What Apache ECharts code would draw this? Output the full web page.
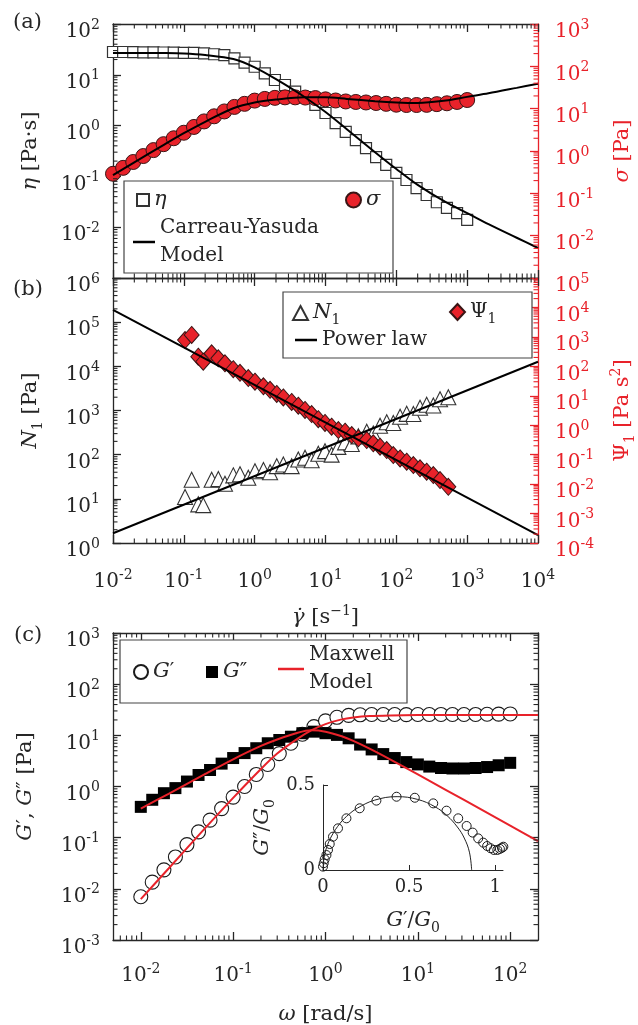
<!DOCTYPE html>
<html><head><meta charset="utf-8">
<script src="https://cdn.jsdelivr.net/npm/echarts@6/dist/echarts.min.js"></script>
<style>html,body{margin:0;padding:0;background:#fff}#c{width:638px;height:1025px}</style>
</head><body><div id="c"></div><script>
// ---------- Panel (a): steady shear ----------
const shearRateA = [0.01,0.0139,0.0193,0.0268,0.0373,0.0518,0.072,0.1,0.139,0.193,0.268,0.373,0.518,0.72,1,1.39,1.93,2.68,3.73,5.18,7.2,10,13.9,19.3,26.8,37.3,51.8,72,100,139,193,268,373,518,720,1000];
const viscosity = [28.1,28.1,28,27.7,27.7,27.5,27.2,26.9,26.9,26.5,25.4,24.5,21.1,17.3,14.4,10.7,7.9,6.3,4.65,3.65,2.55,1.77,1.12,0.75,0.52,0.36,0.24,0.168,0.117,0.085,0.059,0.043,0.031,0.024,0.019,0.0139];
const shearStress = [0.29,0.40,0.55,0.76,1.05,1.45,2.0,2.7,3.7,5.0,6.6,8.6,11.0,13.0,15.5,17.0,18.0,18.5,18.5,18.3,17.8,16.6,15.6,14.8,14.4,14.0,13.6,13.0,12.4,12.2,12.2,12.3,12.8,13.4,14.4,16.0];
const fitRateA = [0.01,0.02,0.05,0.1,0.2,0.5,1,2,5,10,20,50,100,200,500,1000,2000,5000,10000];
const fitViscosity = [27,27,26.8,26.3,24.5,20.4,14,8.2,3.7,1.85,0.85,0.30,0.14,0.068,0.031,0.019,0.0115,0.0062,0.0039];
const fitStress = [0.27,0.54,1.34,2.63,4.9,10.2,14,16.4,18.5,18.5,17,15,14,13.6,15.5,19,23,31,39];

// ---------- Panel (b): normal stresses ----------
const shearRateB = [0.104,0.129,0.160,0.188,0.247,0.307,0.381,0.499,0.621,0.813,1.01,1.33,1.65,2.05,2.54,3.33,4.13,5.14,6.38,7.91,9.84,12.2,15.2,18.9,23.5,29.1,38.2,47.3,58.9,73.2,90.6,113,140,174,216,268,333,414,542];
const normalStress = [11,27,7.5,7.2,27,28,22,34,36,30,42,45,40,55,60,55,78,85,75,105,120,100,150,190,175,260,330,300,450,540,520,720,840,830,1150,1350,1300,1800,2000];
const normalCoeff = [783,1160,212,144,277,187,127,80,60,40,30,21,16,11.5,8.8,6.2,4.6,3.3,2.4,1.6,1.2,0.89,0.687,0.601,0.464,0.359,0.314,0.243,0.186,0.144,0.0973,0.0745,0.0575,0.0444,0.0344,0.0263,0.0203,0.0137,0.0081];
const powerRate = [0.01,10000];
const powerN1 = [1.66,12700];
const powerPsi1 = [8200,0.000186];

// ---------- Panel (c): oscillatory shear ----------
const freq = [0.01,0.0133,0.0178,0.0237,0.0316,0.0422,0.0562,0.075,0.1,0.133,0.178,0.237,0.316,0.422,0.562,0.75,1,1.33,1.78,2.37,3.16,4.22,5.62,7.5,10,13.3,17.8,23.7,31.6,42.2,56.2,75,100];
const storageMod = [0.0070,0.0135,0.0235,0.042,0.073,0.13,0.22,0.37,0.62,1.0,1.72,2.7,4.4,7.0,10.5,14.8,19.2,22.5,24.5,25.2,25.5,25.5,25.5,25.4,25.5,25.5,25.6,25.5,25.5,25.6,25.8,26,26.2];
const lossMod = [0.40,0.55,0.74,0.93,1.25,1.68,2.1,2.8,3.6,4.5,5.6,7.0,8.1,9.4,11.0,11.8,11.0,10.2,8.75,6.6,5.3,4.3,3.6,3.0,2.7,2.45,2.3,2.25,2.25,2.3,2.4,2.6,2.9];
const modelFreq = [0.01,0.02,0.05,0.1,0.2,0.3,0.5,0.7,1,1.5,2,3,5,10,20,50,100,200];
const modelStorage = [0.0063,0.025,0.155,0.60,2.2,4.4,8.6,12.5,16.6,20.5,22.3,23.8,24.5,24.9,25,25,25,25];
const modelLoss = [0.37,0.72,1.76,3.4,6.2,8.3,11.2,12.5,11.8,9.6,7.8,5.5,3.4,1.72,0.86,0.345,0.172,0.086];

// ---------- Inset: Cole-Cole plot ----------
const coleX = [0.0,0.004,0.01,0.02,0.029,0.039,0.058,0.087,0.136,0.213,0.31,0.427,0.533,0.64,0.717,0.785,0.834,0.869,0.901,0.93,0.953,0.973,0.992,1.012,1.027,1.039,1.047];
const coleY = [0.02,0.04,0.063,0.088,0.118,0.153,0.196,0.245,0.304,0.363,0.408,0.431,0.425,0.392,0.349,0.304,0.259,0.22,0.186,0.161,0.141,0.128,0.118,0.118,0.124,0.131,0.137];
const arcX = [0,0.005,0.02,0.05,0.1,0.15,0.2,0.3,0.43,0.55,0.65,0.72,0.78,0.82,0.85,0.863];
const arcY = [0,0.065,0.13,0.2,0.276,0.327,0.364,0.411,0.4315,0.415,0.372,0.32,0.253,0.188,0.105,0];

// ---------- Tick labels ----------
const logTickBase = '10';
const insetXTicks = ['0','0.5','1'];
const insetYTicks = ['0','0.5'];

const FONT = 'DejaVu Serif';
const RED = '#e8222a';
const INK = '#262626';
const zip = (a, b) => a.map((v, i) => [v, b[i]]);

function supLabel(v) {
  const e = Math.log10(v);
  const r = Math.round(e);
  if (Math.abs(e - r) > 1e-6) return '';
  return '{b|' + logTickBase + '}{s|' + (r < 0 ? '-' + (-r) : r) + '}';
}
function tickRich(color) {
  return {
    b: {fontFamily: FONT, fontSize: 20, lineHeight: 28, color},
    s: {fontFamily: FONT, fontSize: 14, lineHeight: 12, verticalAlign: 'top', color}
  };
}
function nameRich(color) {
  return {
    i: {fontFamily: FONT, fontSize: 21, fontStyle: 'italic', color, lineHeight: 28},
    sub: {fontFamily: FONT, fontSize: 14, color, verticalAlign: 'bottom', lineHeight: 18},
    sup: {fontFamily: FONT, fontSize: 14, color, verticalAlign: 'top', lineHeight: 12}
  };
}
function logAx(o) {
  const color = o.color || INK;
  const ax = {
    type: 'log', logBase: 10, gridIndex: o.grid, position: o.pos, min: o.min, max: o.max,
    splitNumber: o.split,
    axisLine: {show: true, onZero: false, lineStyle: {color, width: 1.3}},
    axisTick: {show: true, inside: true, length: 8, lineStyle: {color, width: 1.3}},
    minorTick: {show: false},
    splitLine: {show: false},
    axisLabel: o.labels ? {
      show: true, formatter: supLabel, color, fontFamily: FONT, fontSize: 20,
      margin: o.margin, showMinLabel: o.showMin !== false, showMaxLabel: o.showMax !== false,
      rich: tickRich(color), padding: o.pad || 0
    } : {show: false}
  };
  if (o.name) {
    ax.name = o.name; ax.nameLocation = 'middle'; ax.nameGap = o.nameGap;
    if (o.nameRotate != null) ax.nameRotate = o.nameRotate;
    ax.nameTextStyle = {fontFamily: FONT, fontSize: 21, color, lineHeight: 28, rich: nameRich(color)};
  }
  return ax;
}

// minor ticks (2..9 x 10^k) drawn through the axes' own log scales
function minorValues(min, max) {
  const out = [];
  for (let e = Math.floor(Math.log10(min)); e < Math.ceil(Math.log10(max)); e++) {
    for (let m = 2; m <= 9; m++) {
      const v = m * Math.pow(10, e);
      if (v > min * 1.0001 && v < max * 0.9999) out.push(v);
    }
  }
  return out;
}
function tickSeries(xi, yi, axis, min, max, other, sides, color) {
  const len = 4.5;
  return {
    type: 'custom', xAxisIndex: xi, yAxisIndex: yi, silent: true, z: 6, clip: false,
    data: minorValues(min, max).map(v => axis === 'x' ? [v, other] : [other, v]),
    encode: {x: 0, y: 1},
    renderItem: (params, api) => {
      const cs = params.coordSys;
      const p = api.coord([api.value(0), api.value(1)]);
      const st = {stroke: color, lineWidth: 1.1};
      const ch = [];
      if (axis === 'x') {
        if (sides.includes('bottom')) ch.push({type: 'line', shape: {x1: p[0], y1: cs.y + cs.height, x2: p[0], y2: cs.y + cs.height - len}, style: st});
        if (sides.includes('top')) ch.push({type: 'line', shape: {x1: p[0], y1: cs.y, x2: p[0], y2: cs.y + len}, style: st});
      } else {
        if (sides.includes('left')) ch.push({type: 'line', shape: {x1: cs.x, y1: p[1], x2: cs.x + len, y2: p[1]}, style: st});
        if (sides.includes('right')) ch.push({type: 'line', shape: {x1: cs.x + cs.width, y1: p[1], x2: cs.x + cs.width - len, y2: p[1]}, style: st});
      }
      return {type: 'group', children: ch};
    }
  };
}

const legendNames = {
  'η': '{i|η}', 'σ': '{i|σ}', 'Carreau-Yasuda Model': 'Carreau-Yasuda\nModel',
  'N1': '{i|N}{sub|1}', 'Ψ1': 'Ψ{sub|1}', 'Power law': 'Power law',
  'G′': '{i|G}′', 'G″': '{i|G}″', 'Maxwell Model': 'Maxwell\nModel'
};
function leg(name, left, top, w, h, icon) {
  const l = {
    data: [name], left, top, itemWidth: w, itemHeight: h, selectedMode: false, padding: 5,
    formatter: n => legendNames[n],
    textStyle: {fontFamily: FONT, fontSize: 20, color: INK, lineHeight: 28, rich: nameRich(INK)}
  };
  if (icon) l.icon = icon;
  return l;
}

const chart = echarts.init(document.getElementById('c'), null, {renderer: 'canvas'});
const symbolStyle = (fill, stroke, w) => ({color: fill, borderColor: stroke, borderWidth: w, opacity: 1});
const option = {
  animation: false,
  backgroundColor: '#fff',
  grid: [
    {left: 113, top: 24, width: 425, height: 254, outerBoundsMode: 'none', containLabel: false},
    {left: 113, top: 278, width: 425, height: 265, outerBoundsMode: 'none', containLabel: false},
    {left: 113, top: 633, width: 425, height: 307, outerBoundsMode: 'none', containLabel: false},
    {left: 323, top: 785, width: 180, height: 85, outerBoundsMode: 'none', containLabel: false}
  ],
  xAxis: [
    logAx({grid: 0, pos: 'bottom', min: 0.01, max: 10000, split: 6}),
    logAx({grid: 0, pos: 'top', min: 0.01, max: 10000, split: 6}),
    logAx({grid: 1, pos: 'bottom', min: 0.01, max: 10000, split: 6, labels: true, margin: 25,
      name: '{i|γ̇} [s{sup|−1}]', nameGap: 61}),
    logAx({grid: 1, pos: 'top', min: 0.01, max: 10000, split: 6}),
    logAx({grid: 2, pos: 'bottom', min: 0.005, max: 200, split: 5, labels: true, margin: 22,
      showMin: false, showMax: false, name: '{i|ω} [rad/s]', nameGap: 61}),
    logAx({grid: 2, pos: 'top', min: 0.005, max: 200, split: 5}),
    {
      type: 'value', gridIndex: 3, min: 0, max: 1.045, interval: 0.5, position: 'bottom',
      axisLine: {show: true, onZero: false, lineStyle: {color: INK, width: 1}},
      axisTick: {show: true, inside: true, length: 5, lineStyle: {color: INK}},
      splitLine: {show: false},
      axisLabel: {show: true, showMaxLabel: false, margin: 8, fontFamily: FONT, fontSize: 18, color: INK,
        formatter: v => insetXTicks[Math.round(v / 0.5)] || ''},
      name: '{i|G}′/{i|G}{sub|0}', nameLocation: 'middle', nameGap: 37,
      nameTextStyle: {fontFamily: FONT, fontSize: 20, color: INK, lineHeight: 28, rich: nameRich(INK)}
    }
  ],
  yAxis: [
    logAx({grid: 0, pos: 'left', min: 0.001, max: 100, split: 5, labels: true, margin: 13, showMin: false, pad: [16, 0, 0, 0],
      name: '{i|η} [Pa·s]', nameGap: 68, nameRotate: 90}),
    logAx({grid: 0, pos: 'right', min: 0.001, max: 1000, split: 6, labels: true, margin: 17, showMin: false, pad: [16, 0, 0, 0],
      color: RED, name: '{i|σ} [Pa]', nameGap: 71, nameRotate: 90}),
    logAx({grid: 1, pos: 'left', min: 1, max: 1e6, split: 6, labels: true, margin: 13, pad: [16, 0, 0, 0],
      name: '{i|N}{sub|1} [Pa]', nameGap: 68, nameRotate: 90}),
    logAx({grid: 1, pos: 'right', min: 1e-4, max: 1e5, split: 9, labels: true, margin: 17, pad: [16, 0, 0, 0],
      color: RED, name: 'Ψ{sub|1} [Pa s{sup|2}]', nameGap: 71, nameRotate: 90}),
    logAx({grid: 2, pos: 'left', min: 0.001, max: 1000, split: 6, labels: true, margin: 13, pad: [16, 0, 0, 0],
      name: '{i|G}′, {i|G}″ [Pa]', nameGap: 73, nameRotate: 90}),
    logAx({grid: 2, pos: 'right', min: 0.001, max: 1000, split: 6}),
    {
      type: 'value', gridIndex: 3, min: 0, max: 0.5, interval: 0.5, position: 'left',
      axisLine: {show: true, onZero: false, lineStyle: {color: INK, width: 1}},
      axisTick: {show: true, inside: true, length: 5, lineStyle: {color: INK}},
      splitLine: {show: false},
      axisLabel: {show: true, margin: 8, fontFamily: FONT, fontSize: 18, color: INK,
        formatter: v => insetYTicks[Math.round(v / 0.5)] || ''},
      name: '{i|G}″/{i|G}{sub|0}', nameLocation: 'middle', nameGap: 46, nameRotate: 90,
      nameTextStyle: {fontFamily: FONT, fontSize: 20, color: INK, lineHeight: 28, rich: nameRich(INK)}
    }
  ],
  legend: [
    leg('η', 131, 181, 12, 12),
    leg('σ', 340, 181, 15, 15),
    leg('Carreau-Yasuda Model', 128, 209, 22, 2.5, 'rect'),
    leg('N1', 287, 294, 15, 14),
    leg('Ψ1', 444, 293, 15, 16),
    leg('Power law', 290, 321, 22, 2.5, 'rect'),
    leg('G′', 128, 653, 14, 14),
    leg('G″', 201, 653, 12, 12),
    leg('Maxwell Model', 273, 636, 26, 2.5, 'rect')
  ],
  graphic: [
    {type: 'rect', z: 1, shape: {x: 124, y: 181, width: 269, height: 92}, style: {fill: '#fff', stroke: '#444', lineWidth: 1.2}},
    {type: 'rect', z: 1, shape: {x: 283, y: 292, width: 249, height: 66}, style: {fill: '#fff', stroke: '#444', lineWidth: 1.2}},
    {type: 'rect', z: 1, shape: {x: 120, y: 640, width: 287, height: 63}, style: {fill: '#fff', stroke: '#444', lineWidth: 1.2}},
    {type: 'text', z: 5, x: 13, y: 23, style: {text: '(a)', fontFamily: FONT, fontSize: 21, fill: INK, verticalAlign: 'middle'}},
    {type: 'text', z: 5, x: 13, y: 290, style: {text: '(b)', fontFamily: FONT, fontSize: 21, fill: INK, verticalAlign: 'middle'}},
    {type: 'text', z: 5, x: 14, y: 636, style: {text: '(c)', fontFamily: FONT, fontSize: 21, fill: INK, verticalAlign: 'middle'}}
  ],
  series: [
    {name: 'η', type: 'scatter', xAxisIndex: 0, yAxisIndex: 0, clip: false, z: 3,
      data: zip(shearRateA, viscosity), symbol: 'rect', symbolSize: 11,
      itemStyle: symbolStyle('#fff', '#333', 1.2)},
    {name: 'σ', type: 'scatter', xAxisIndex: 0, yAxisIndex: 1, clip: false, z: 3,
      data: zip(shearRateA, shearStress), symbol: 'circle', symbolSize: 15,
      itemStyle: symbolStyle(RED, '#3a1515', 1)},
    {name: 'Carreau-Yasuda Model', type: 'line', xAxisIndex: 0, yAxisIndex: 0, z: 5, smooth: 0.3,
      data: zip(fitRateA, fitViscosity), symbol: 'none', lineStyle: {color: '#000', width: 2}, itemStyle: {color: '#000'}},
    {name: 'Carreau-Yasuda Model', type: 'line', xAxisIndex: 0, yAxisIndex: 1, z: 5, smooth: 0.3,
      data: zip(fitRateA, fitStress), symbol: 'none', lineStyle: {color: '#000', width: 2}, itemStyle: {color: '#000'}},
    {name: 'N1', type: 'scatter', xAxisIndex: 2, yAxisIndex: 2, clip: false, z: 3,
      data: zip(shearRateB, normalStress), symbol: 'triangle', symbolSize: 15,
      itemStyle: symbolStyle('#fff', '#333', 1.1)},
    {name: 'Ψ1', type: 'scatter', xAxisIndex: 2, yAxisIndex: 3, clip: false, z: 3,
      data: zip(shearRateB, normalCoeff), symbol: 'diamond', symbolSize: [15, 17],
      itemStyle: symbolStyle(RED, '#3a1515', 1)},
    {name: 'Power law', type: 'line', xAxisIndex: 2, yAxisIndex: 2, z: 5,
      data: zip(powerRate, powerN1), symbol: 'none', lineStyle: {color: '#000', width: 2}, itemStyle: {color: '#000'}},
    {name: 'Power law', type: 'line', xAxisIndex: 2, yAxisIndex: 3, z: 5,
      data: zip(powerRate, powerPsi1), symbol: 'none', lineStyle: {color: '#000', width: 2}, itemStyle: {color: '#000'}},
    {name: 'G′', type: 'scatter', xAxisIndex: 4, yAxisIndex: 4, clip: false, z: 3,
      data: zip(freq, storageMod), symbol: 'circle', symbolSize: 14,
      itemStyle: symbolStyle('#fff', '#1a1a1a', 1.1)},
    {name: 'G″', type: 'scatter', xAxisIndex: 4, yAxisIndex: 4, clip: false, z: 3,
      data: zip(freq, lossMod), symbol: 'rect', symbolSize: 12,
      itemStyle: symbolStyle('#000', '#000', 0)},
    {name: 'Maxwell Model', type: 'line', xAxisIndex: 4, yAxisIndex: 4, z: 5, smooth: 0.3,
      data: zip(modelFreq, modelStorage), symbol: 'none', lineStyle: {color: RED, width: 2}, itemStyle: {color: RED}},
    {name: 'Maxwell Model', type: 'line', xAxisIndex: 4, yAxisIndex: 4, z: 5, smooth: 0.3,
      data: zip(modelFreq, modelLoss), symbol: 'none', lineStyle: {color: RED, width: 2}, itemStyle: {color: RED}},
    {name: 'Cole-Cole', type: 'scatter', xAxisIndex: 6, yAxisIndex: 6, clip: false, z: 3,
      data: zip(coleX, coleY), symbol: 'circle', symbolSize: 9,
      itemStyle: symbolStyle('rgba(255,255,255,0)', '#1a1a1a', 1)},
    {name: 'Cole-Cole semicircle', type: 'line', xAxisIndex: 6, yAxisIndex: 6, z: 4, smooth: 0.4,
      data: zip(arcX, arcY), symbol: 'none', lineStyle: {color: '#222', width: 1}},
    // minor ticks
    tickSeries(0, 0, 'x', 0.01, 10000, 0.01, ['bottom', 'top'], INK),
    tickSeries(0, 0, 'y', 0.001, 100, 0.01, ['left'], INK),
    tickSeries(0, 1, 'y', 0.001, 1000, 0.01, ['right'], RED),
    tickSeries(2, 2, 'x', 0.01, 10000, 1, ['bottom', 'top'], INK),
    tickSeries(2, 2, 'y', 1, 1e6, 0.01, ['left'], INK),
    tickSeries(2, 3, 'y', 1e-4, 1e5, 0.01, ['right'], RED),
    tickSeries(4, 4, 'x', 0.005, 200, 0.001, ['bottom', 'top'], INK),
    tickSeries(4, 4, 'y', 0.001, 1000, 0.005, ['left', 'right'], INK)
  ]
};
chart.setOption(option);
</script></body></html>
